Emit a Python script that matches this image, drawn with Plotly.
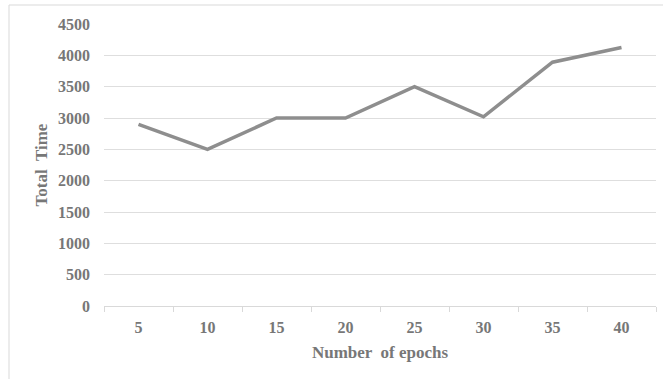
import plotly.graph_objects as go

epochs = ["5", "10", "15", "20", "25", "30", "35", "40"]
total_time = [2900, 2500, 3000, 3000, 3500, 3020, 3890, 4125]
y_ticks = [0, 500, 1000, 1500, 2000, 2500, 3000, 3500, 4000, 4500]

W, H = 663, 379
L, R, T, B = 104, 7, 24, 73
pw = W - L - R
ph = H - T - B

FAM = "Liberation Serif, Times New Roman, serif"
TXT = "#777777"

fig = go.Figure()
fig.add_trace(go.Scatter(x=epochs, y=total_time, mode="lines",
                         line=dict(color="#8e8e8e", width=3.5), showlegend=False))

fig.update_layout(
    width=W, height=H,
    margin=dict(l=L, r=R, t=T, b=B),
    paper_bgcolor="white", plot_bgcolor="white",
    font=dict(family=FAM, size=16, color=TXT),
    xaxis=dict(type="category", tickson="boundaries", ticks="outside", ticklen=5,
               tickcolor="#d9d9d9", showline=True, linecolor="#d9d9d9", linewidth=1,
               showgrid=False, range=[-0.5, 7.5],
               tickvals=epochs, ticktext=[f"<b>{e}</b>" for e in epochs],
               ticklabelstandoff=7,
               tickfont=dict(family=FAM, size=16, color=TXT),
               title=dict(text="<b>Number  of epochs</b>", standoff=10,
                          font=dict(family=FAM, size=17, color=TXT))),
    yaxis=dict(range=[0, 4500], tickvals=y_ticks, ticktext=[f"<b>{v}</b>" for v in y_ticks],
               showgrid=True, gridcolor="#dedede", gridwidth=1, zeroline=False,
               showline=False, ticks="", ticklabelstandoff=13,
               tickfont=dict(family=FAM, size=16, color=TXT),
               title=dict(text="<b>Total  Time</b>", standoff=6,
                          font=dict(family=FAM, size=17, color=TXT))),
)

# outer chart border
fig.add_shape(type="rect", xref="paper", yref="paper",
              x0=(9 - L) / pw, x1=(W + 5 - L) / pw,
              y0=-(H + 5 - T - ph) / ph, y1=(H - 5 - B) / ph,
              line=dict(color="#d9d9d9", width=1), fillcolor="rgba(0,0,0,0)", layer="below")

fig.write_html("out.html", config={"displayModeBar": False},
               post_script="document.body.style.margin='0';")
